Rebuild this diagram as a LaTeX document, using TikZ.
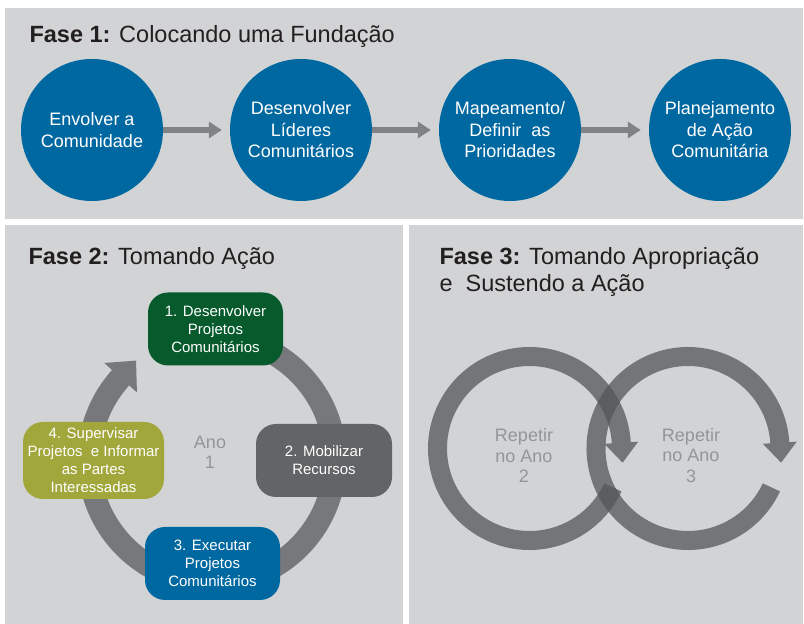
\documentclass[tikz,border=0pt]{standalone}
\usepackage{fontspec}
\setmainfont{Liberation Sans}
\usepackage{tikz}
\usetikzlibrary{calc,arrows.meta}

\definecolor{panelgray}{HTML}{D1D3D4}
\definecolor{stepblue}{HTML}{0068A1}
\definecolor{stepgreen}{HTML}{065A2C}
\definecolor{stepdark}{HTML}{636466}
\definecolor{stepolive}{HTML}{A2A73B}
\definecolor{ringgray}{HTML}{77787B}
\definecolor{loopgray}{HTML}{55565A}
\definecolor{arrowgray}{HTML}{808285}
\definecolor{yeargray}{HTML}{939598}
\definecolor{titleblack}{HTML}{231F20}

\tikzset{
  panel/.style={fill=panelgray, draw=none},
  fasetitle/.style={anchor=base west, align=left, text=titleblack, font=\fontsize{23.5}{27}\selectfont},
  stepcircle/.style={circle, fill=stepblue, minimum size=142pt, inner sep=0pt, text=white, align=center, font=\fontsize{18}{21.5}\selectfont},
  flowarrow/.style={draw=arrowgray, line width=6.5pt, -{Triangle[length=13pt,width=16pt]}, shorten >=8pt},
  cyclebox/.style={rectangle, rounded corners=20pt, minimum width=135pt, minimum height=73pt, inner sep=0pt, text=white, align=center, font=\fontsize{15}{18}\selectfont},
  yeartext/.style={text=yeargray, align=center, font=\fontsize{18}{20.5}\selectfont}
}

\begin{document}
\begin{tikzpicture}[x=1pt, y=1pt]

            % Page and panels
            \fill[white] (0,0) rectangle (804,624);
            \useasboundingbox (0,0) rectangle (804,624);
            \fill[panel] (5,405) rectangle (803,616);
            \fill[panel] (5,0) rectangle (402.5,399);
            \fill[panel] (409,0) rectangle (803,399);

            % Fase 1
            \node[fasetitle] (title1) at (26,581) {\textbf{Fase 1:} Colocando uma Fundação};
            \node[stepcircle] (envolver) at (92,494) {Envolver a\\Comunidade};
            \node[stepcircle] (lideres) at (301,494) {Desenvolver\\Líderes\\Comunitários};
            \node[stepcircle] (mapeamento) at (510,494) {Mapeamento/\\Definir\ \ as\\Prioridades};
            \node[stepcircle] (planejamento) at (720,494) {Planejamento\\de Ação\\Comunitária};
            \draw[flowarrow] (envolver) -- (lideres);
            \draw[flowarrow] (lideres) -- (mapeamento);
            \draw[flowarrow] (mapeamento) -- (planejamento);

            % Fase 2
            \node[fasetitle] (title2) at (25,359) {\textbf{Fase 2:} Tomando Ação};
            \coordinate (ano1) at (212,164);
            \begin{scope}[shift={(ano1)}]
              \fill[ringgray] (100:134.5) arc[start angle=100, end angle=-222, radius=134.5]
                -- (-222:145) -- (-232.6:125.1) -- (-222:101) -- (-222:111.5)
                arc[start angle=-222, end angle=100, radius=111.5] -- cycle;
            \end{scope}
            \node[yeartext] (anotext) at (210,171.5) {Ano\\1};
            \node[cyclebox, fill=stepgreen] (projetos) at (215.5,295) {1. Desenvolver\\Projetos\\Comunitários};
            \node[cyclebox, fill=stepdark, minimum width=136pt] (recursos) at (324,163.5) {2. Mobilizar\\Recursos};
            \node[cyclebox, fill=stepblue] (executar) at (212.5,60.5) {3. Executar\\Projetos\\Comunitários};
            \node[cyclebox, fill=stepolive, minimum width=141pt, minimum height=77pt] (supervisar) at (93.5,163.5) {4. Supervisar\\Projetos\ \ e Informar\\as Partes\\Interessadas};

            % Fase 3
            \node[fasetitle] (title3) at (436,332) {\textbf{Fase 3:} Tomando Apropriação\\e\ \ Sustendo a Ação};
            \coordinate (ano2) at (529.5,175.5);
            \coordinate (ano3) at (688,175.5);
            \foreach \c in {ano2,ano3}{
              \begin{scope}[shift={(\c)}]
                \fill[loopgray, fill opacity=0.75] (-25:101.5) arc[start angle=-25, end angle=-356.4, radius=101.5]
                  -- (3.6:109) -- (-8.66:94.15) -- (3.6:75) -- (3.6:82.5)
                  arc[start angle=-356.4, end angle=-25, radius=82.5] -- cycle;
              \end{scope}
            }
            \node[yeartext] (repetir2) at (524,168.5) {Repetir\\no Ano\\2};
            \node[yeartext] (repetir3) at (691,168.5) {Repetir\\no Ano\\3};
\end{tikzpicture}
\end{document}
